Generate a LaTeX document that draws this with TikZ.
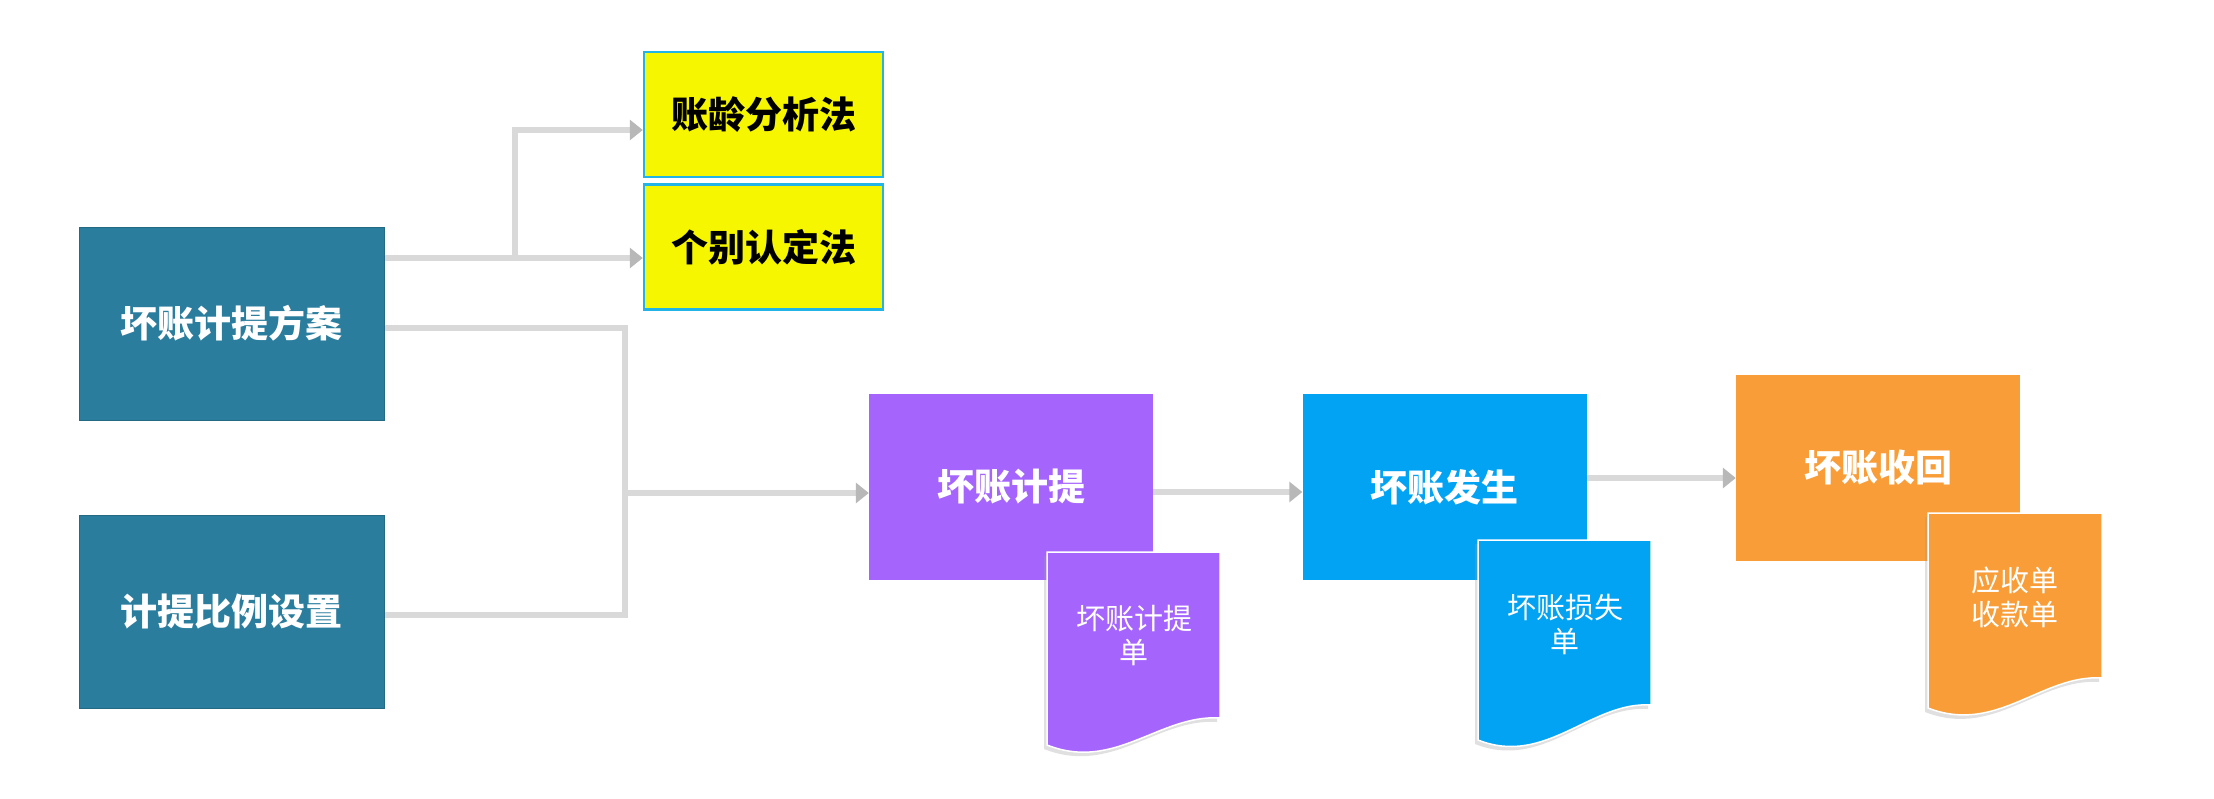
\documentclass[tikz,border=0pt]{standalone}
\usepackage{fontspec}
\newfontfamily\cjk{Noto Sans CJK SC}
\usetikzlibrary{arrows.meta}
\definecolor{tealbox}{HTML}{2A7D9D}
\definecolor{yelbox}{HTML}{F6F600}
\definecolor{cyanb}{HTML}{22B4E6}
\definecolor{purbox}{HTML}{A565FD}
\definecolor{blubox}{HTML}{03A3F4}
\definecolor{orabox}{HTML}{F89D37}
\definecolor{connc}{HTML}{D9D9D9}
\tikzset{
  box/.style={rectangle, inner sep=0pt, font=\cjk\bfseries\fontsize{37}{42}\selectfont, text=white},
  tealstyle/.style={box, fill=tealbox, draw=tealbox!85!black, line width=1pt, minimum width=305pt, minimum height=193pt},
  yelstyle/.style={box, fill=yelbox, draw=cyanb, line width=2.5pt, text=black, minimum width=239pt, minimum height=125pt},
  flowbox/.style={box, minimum width=284pt, minimum height=186pt},
  doctext/.style={inner sep=0pt, align=center, text=white, font=\cjk\fontsize{29}{34}\selectfont},
  link/.style={draw=connc, line width=6pt},
  conn/.style={link, -{Triangle[width=20pt,length=13pt,color=black!28,fill=black!28]}},
  docshade/.style={fill=black!40, opacity=.3, xshift=-3pt, yshift=-4pt},
  docfill/.style={fill=#1, draw=white, line width=1.5pt},
}
\begin{document}
\begin{tikzpicture}[x=1pt,y=-1pt]
\useasboundingbox[fill=white] (0,0) rectangle (2214,798);

% left boxes
\node[tealstyle] (t1) at (231.5,323.5) {坏账计提方案};
\node[tealstyle] (t2) at (231.5,611.5) {计提比例设置};

% yellow boxes
\node[yelstyle] (y1) at (763.5,114.5) {账龄分析法};
\node[yelstyle] (y2) at (763.5,247) {个别认定法};

% flow boxes
\node[flowbox, fill=purbox] (p) at (1011,487) {坏账计提};
\node[flowbox, fill=blubox] (b) at (1444.5,487) {坏账发生};
\node[flowbox, fill=orabox] (o) at (1878,468) {坏账收回};

% connectors to yellow boxes
\coordinate (j1) at (515,258);
\coordinate (jtop) at (515,130);
\draw[conn] (t1.east |- j1) -- (y2.west |- j1);
\draw[conn] (j1) -- (jtop) -- (y1.west |- jtop);

% connectors to purple
\coordinate (k1) at (625,328);
\coordinate (k2) at (625,615);
\coordinate (k3) at (625,493);
\draw[link, line join=miter] (t1.east |- k1) -- (k1) -- (k2) -- (t2.east |- k2);
\draw[conn] (k3) -- (p.west |- k3);

% flow connectors
\draw[conn] ([yshift=-5pt]p.east) coordinate (pb) -- (b.west |- pb);
\draw[conn] ([yshift=9pt]b.east) coordinate (bo) -- (o.west |- bo);

% documents
\fill[docshade] (1047,552) -- (1220,552) -- (1220,718) .. controls (1160,714) and (1115,772) .. (1047,745) -- cycle;
\filldraw[docfill=purbox] (1047,552) -- (1220,552) -- (1220,718) .. controls (1160,714) and (1115,772) .. (1047,745) -- cycle;
\node[doctext] (pd) at (1134,635) {坏账计提\\单};

\fill[docshade] (1478,540) -- (1651,540) -- (1651,705) .. controls (1591,701) and (1546,767) .. (1478,740) -- cycle;
\filldraw[docfill=blubox] (1478,540) -- (1651,540) -- (1651,705) .. controls (1591,701) and (1546,767) .. (1478,740) -- cycle;
\node[doctext] (bd) at (1565,624) {坏账损失\\单};

\fill[docshade] (1928,513) -- (2102,513) -- (2102,678) .. controls (2042,674) and (1997,735) .. (1928,708) -- cycle;
\filldraw[docfill=orabox] (1928,513) -- (2102,513) -- (2102,678) .. controls (2042,674) and (1997,735) .. (1928,708) -- cycle;
\node[doctext] (od) at (2015,597) {应收单\\收款单};
\end{tikzpicture}
\end{document}
